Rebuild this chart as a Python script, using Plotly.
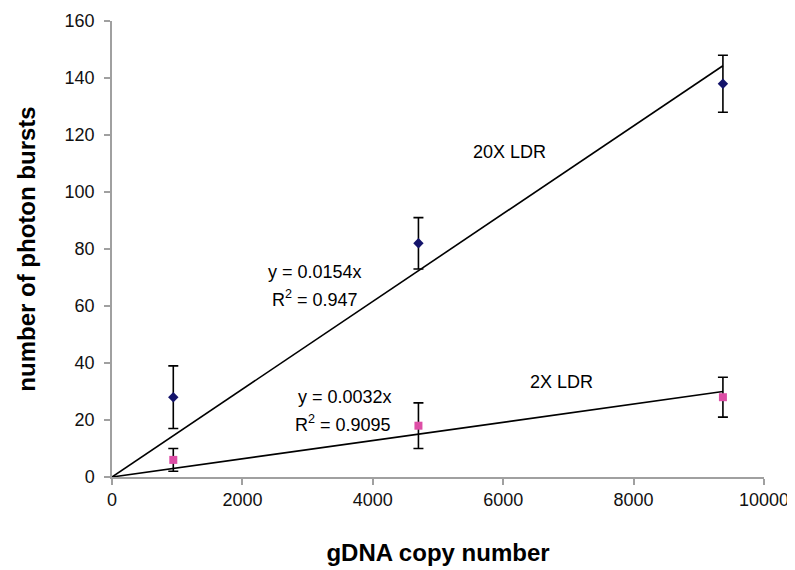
import plotly.graph_objects as go

copy_number = [940, 4700, 9370]
bursts_20x = [28, 82, 138]
err_20x = [11, 9, 10]
bursts_2x = [6, 18, 28]
err_2x = [4, 8, 7]
slope_20x = 0.0154
slope_2x = 0.0032
x_ticks = [0, 2000, 4000, 6000, 8000, 10000]
x_tick_labels = ["0", "2000", "4000", "6000", "8000", "10000"]
y_ticks = [0, 20, 40, 60, 80, 100, 120, 140, 160]

FONT = "Liberation Sans, Arial, sans-serif"
x_end = max(copy_number)
fig = go.Figure()
fig.add_trace(go.Scatter(x=[0, x_end], y=[0, slope_20x * x_end], mode="lines",
                         line=dict(color="black", width=1.6), showlegend=False))
fig.add_trace(go.Scatter(x=[0, x_end], y=[0, slope_2x * x_end], mode="lines",
                         line=dict(color="black", width=1.6), showlegend=False))
fig.add_trace(go.Scatter(x=copy_number, y=bursts_20x, mode="markers",
                         marker=dict(symbol="diamond", size=8, color="#14146b"),
                         error_y=dict(type="data", array=err_20x, color="black", thickness=1.6, width=5),
                         showlegend=False))
fig.add_trace(go.Scatter(x=copy_number, y=bursts_2x, mode="markers",
                         marker=dict(symbol="square", size=8, color="#dd4ea6"),
                         error_y=dict(type="data", array=err_2x, color="black", thickness=1.6, width=5),
                         showlegend=False))

font_ann = dict(family=FONT, size=18, color="black")
ann = [
    (6100, 114, "20X LDR"),
    (6900, 33.5, "2X LDR"),
    (3110, 71.8, "y = 0.0154x"),
    (3110, 62.5, "R<sup>2</sup> = 0.947"),
    (3570, 28.2, "y = 0.0032x"),
    (3540, 18.8, "R<sup>2</sup> = 0.9095"),
]
for x, y, t in ann:
    fig.add_annotation(x=x, y=y, text=t, showarrow=False, font=font_ann,
                       xanchor="center", yanchor="middle")

axis_common = dict(showgrid=False, zeroline=False, showline=True, linecolor="#a0a0a0",
                   linewidth=1.5, ticks="outside", tickcolor="#a0a0a0", ticklen=6,
                   tickwidth=1.5, automargin=False,
                   tickfont=dict(family=FONT, size=18, color="#111111"))
fig.update_xaxes(range=[0, 10000], tickvals=x_ticks, ticktext=x_tick_labels, **axis_common,
                 title=dict(text="<b>gDNA copy number</b>", standoff=35,
                            font=dict(family=FONT, size=24, color="black")))
fig.update_yaxes(range=[0, 160], tickvals=y_ticks, **axis_common,
                 ticklabelstandoff=6,
                 title=dict(text="<b>number of photon bursts</b>", standoff=22,
                            font=dict(family=FONT, size=24, color="black")))
# page body has an 8px margin; offset the plot area so it lands where the reference has it
fig.update_layout(width=795, height=570, plot_bgcolor="white", paper_bgcolor="white",
                  margin=dict(l=104, r=39, t=13, b=101))
fig.write_html("out.html")
